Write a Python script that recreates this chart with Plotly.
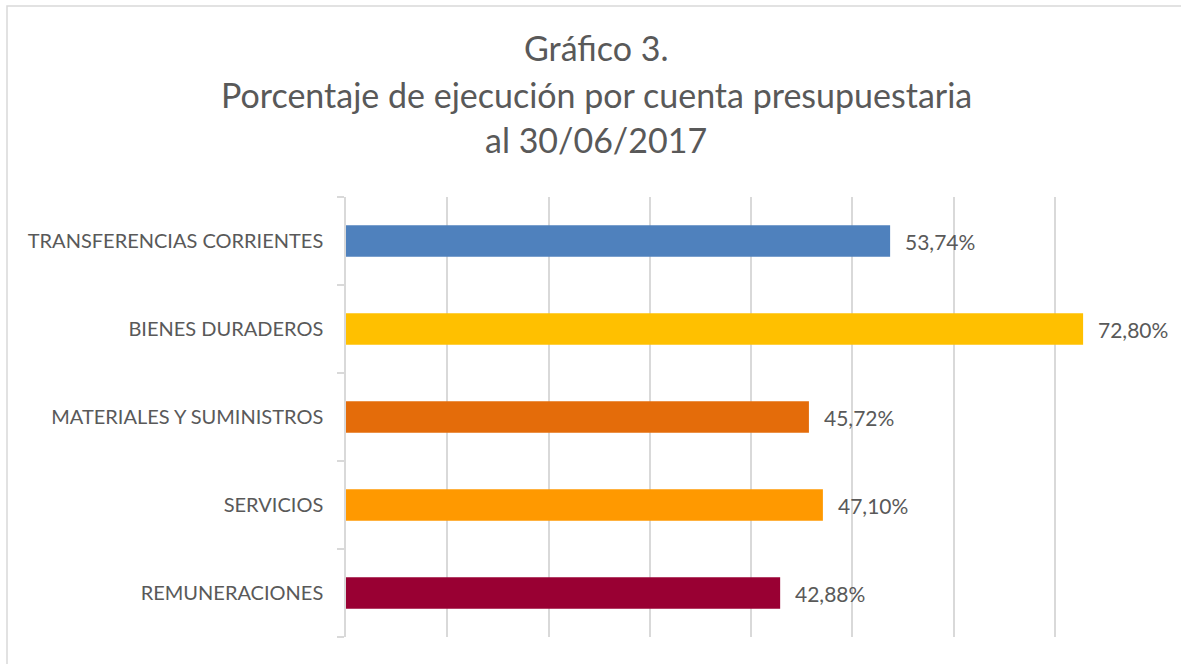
import plotly.graph_objects as go

categories = ["REMUNERACIONES", "SERVICIOS", "MATERIALES Y SUMINISTROS",
              "BIENES DURADEROS", "TRANSFERENCIAS CORRIENTES"]
values = [42.88, 47.10, 45.72, 72.80, 53.74]
labels = ["42,88%", "47,10%", "45,72%", "72,80%", "53,74%"]
colors = ["#990033", "#FF9900", "#E46C0A", "#FFC000", "#4F81BD"]
title_lines = ["Gráfico 3.", "Porcentaje de ejecución por cuenta presupuestaria", "al 30/06/2017"]

W, H = 1181, 664
L, R, T, B = 346, 1156, 197, 637

FONT = "Lato"
GREY = "#595959"
GRID = "#D9D9D9"

fig = go.Figure()
fig.add_trace(go.Bar(
    x=values, y=categories, orientation="h",
    marker=dict(color=colors, line=dict(width=0)),
    width=0.36, hoverinfo="skip",
))

def px_x(p):
    return (p - L) / (R - L)

def px_y(p):
    return (B - p) / (B - T)

annotations = []
for v, c, lab in zip(values, categories, labels):
    annotations.append(dict(x=v, y=c, xref="x", yref="y", text=lab,
                            showarrow=False, xanchor="left", yanchor="middle",
                            xshift=13, font=dict(family=FONT, size=21, color=GREY)))

title_y = [47, 95, 140]
for t, yy in zip(title_lines, title_y):
    annotations.append(dict(x=px_x(596), y=px_y(yy), xref="paper", yref="paper",
                            text=t, showarrow=False, xanchor="center", yanchor="middle",
                            font=dict(family=FONT, size=34, color=GREY)))

fig.update_layout(
    width=W, height=H,
    margin=dict(l=L, r=W - R, t=T, b=H - B, pad=0),
    paper_bgcolor="white", plot_bgcolor="white",
    showlegend=False,
    annotations=annotations,
    shapes=[dict(type="rect", xref="paper", yref="paper",
                 x0=px_x(7), x1=px_x(1190), y0=px_y(680), y1=px_y(6),
                 line=dict(color=GRID, width=1.5), fillcolor="rgba(0,0,0,0)", layer="below")],
    xaxis=dict(range=[0, 80], dtick=10, tick0=0, showgrid=True, gridcolor=GRID, gridwidth=1.5,
               showticklabels=False, zeroline=False, showline=False, ticks="", fixedrange=True),
    yaxis=dict(showline=True, linecolor=GRID, linewidth=1.5, ticks="outside", tickson="boundaries",
               ticklen=7, tickcolor=GRID, tickwidth=1.5, showgrid=False,
               ticklabelstandoff=17,
               tickfont=dict(family=FONT, size=20, color=GREY), fixedrange=True),
    font=dict(family=FONT),
)

fig.write_html("out.html")
